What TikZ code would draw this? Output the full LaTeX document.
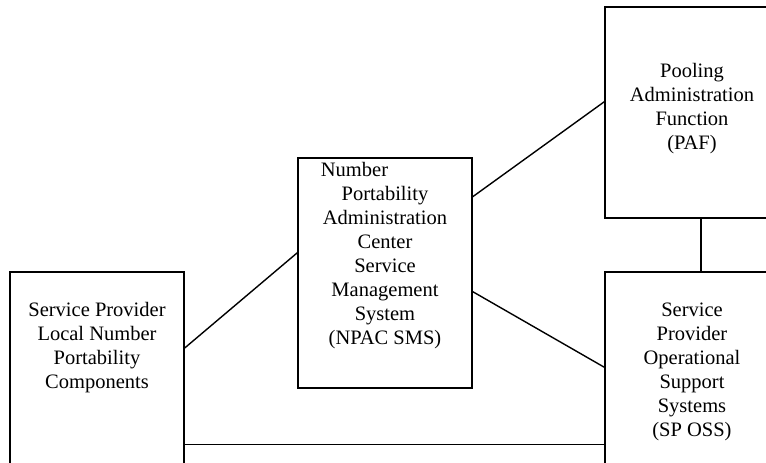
\documentclass[tikz,border=0pt]{standalone}
\usepackage{fontspec}
\setmainfont{Liberation Serif}

\tikzset{
  blocco/.style={draw, line width=1.4pt, minimum width=174pt, inner sep=0pt},
  testo/.style={align=center, inner sep=0pt, font=\fontsize{20.5}{24}\selectfont},
  linea/.style={line width=1.4pt}
}

\begin{document}
\begin{tikzpicture}[x=1pt, y=1pt]
        \clip (0,0) rectangle (766,463);

        % ----------------------------------------------------
        % Blocchi
        % ----------------------------------------------------
        \node[blocco, minimum height=231pt] (lnp) at (97,75.5) {};
        \node[testo] (lnptxt) at (97,115) {Service Provider\\Local Number\\Portability\\Components};

        \node[blocco, minimum height=230pt] (npac) at (385,190) {};
        \node[testo] (npactxt) at (385,207) {Number\hspace{61pt}\mbox{}\\Portability\\Administration\\Center\\Service\\Management\\System\\(NPAC SMS)};

        \node[blocco, minimum height=211pt] (paf) at (692,350.5) {};
        \node[testo] (paftxt) at (692,354) {Pooling\\Administration\\Function\\(PAF)};

        \node[blocco, minimum height=231pt] (oss) at (692,75.5) {};
        \node[testo] (osstxt) at (692,91) {Service\\Provider\\Operational\\Support\\Systems\\(SP OSS)};

        % ----------------------------------------------------
        % Collegamenti
        % ----------------------------------------------------
        \draw[linea] (lnp.east |- lnptxt) -- (npac.167);
        \draw[linea] (npac.41) -- (paf.173);
        \draw[linea] (npac.-12) -- (oss.167);
        \draw[linea] ([xshift=9pt]paf.south) -- ([xshift=9pt]oss.north);
        \draw[linea] (lnp.-33.5) -- (lnp.-33.5 -| oss.west);

\end{tikzpicture}
\end{document}
